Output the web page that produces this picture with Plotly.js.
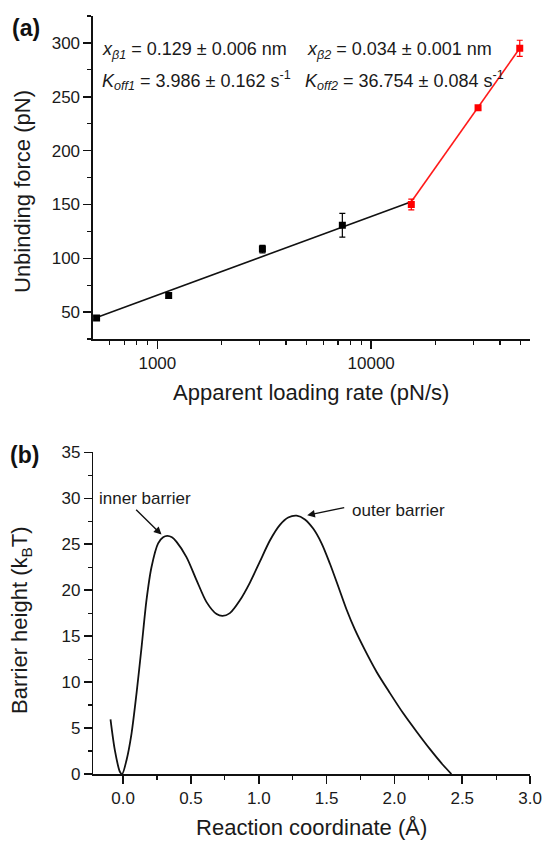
<!DOCTYPE html>
<html>
<head>
<meta charset="utf-8">
<script src="https://cdn.plot.ly/plotly-3.0.1.min.js"></script>
<style>html,body{margin:0;padding:0;background:#fff;}#chart{width:542px;height:841px;}</style>
</head>
<body>
<div id="chart"></div>
<script>
// Panel (a): dynamic force spectroscopy
var rateLow = [520, 1130, 3100, 7330];
var forceLow = [44.5, 65.5, 108.5, 130.7];
var errLow = [1.5, 2.5, 3.5, 11];
var rateHigh = [15400, 31600, 49500];
var forceHigh = [150, 239.8, 295];
var errHigh = [5, 2, 7.5];
var fitLowX = [520, 15400];
var fitLowY = [45, 152.5];
var fitHighX = [15400, 49500];
var fitHighY = [152.5, 295];
var rateTickVals = [1000, 10000];
var rateTickText = ['1000', '10000'];
var rateMinorVals = [600, 700, 800, 900, 2000, 3000, 4000, 5000, 6000, 7000, 8000, 9000, 20000, 30000, 40000, 50000];

// Panel (b): energy landscape
var coordX = [-0.093, -0.061, -0.024, -0.007, 0.025, 0.062, 0.099, 0.136, 0.172, 0.209, 0.258, 0.295, 0.325, 0.36, 0.394, 0.467, 0.541, 0.615, 0.689, 0.733, 0.787, 0.861, 0.934, 1.008, 1.082, 1.156, 1.217, 1.279, 1.340, 1.401, 1.463, 1.524, 1.586, 1.647, 1.709, 1.782, 1.869, 1.967, 2.065, 2.164, 2.262, 2.36, 2.42];
var barrierY = [5.95, 2.6, 0.25, 0, 1.5, 4.4, 8.8, 13.8, 18.9, 22.5, 25.1, 25.75, 25.9, 25.75, 25.25, 23.6, 21.1, 18.7, 17.4, 17.2, 17.5, 18.9, 20.8, 23.1, 25.4, 27.1, 27.9, 28.1, 27.7, 26.7, 25.1, 22.9, 20.4, 17.9, 15.7, 13.5, 11.1, 8.8, 6.6, 4.6, 2.7, 0.95, 0];

var FONT = 'Liberation Sans, Arial, Helvetica, sans-serif';
var TXT = '#1a1a1a';

var traces = [
  {x: fitLowX, y: fitLowY, mode: 'lines', line: {color: '#111', width: 1.6}, xaxis: 'x', yaxis: 'y', hoverinfo: 'skip'},
  {x: fitHighX, y: fitHighY, mode: 'lines', line: {color: '#ff1a1a', width: 1.6}, xaxis: 'x', yaxis: 'y', hoverinfo: 'skip'},
  {x: rateLow, y: forceLow, mode: 'markers', marker: {symbol: 'square', size: 7, color: '#000'},
   error_y: {type: 'data', array: errLow, visible: true, color: '#000', thickness: 1.2, width: 3}, xaxis: 'x', yaxis: 'y'},
  {x: rateHigh, y: forceHigh, mode: 'markers', marker: {symbol: 'square', size: 7, color: '#ff0000'},
   error_y: {type: 'data', array: errHigh, visible: true, color: '#ff0000', thickness: 1.2, width: 3}, xaxis: 'x', yaxis: 'y'},
  {x: coordX, y: barrierY, mode: 'lines', line: {color: '#111', width: 1.8, shape: 'spline', smoothing: 0.8}, xaxis: 'x2', yaxis: 'y2'}
];

var axisBase = {
  showgrid: false, zeroline: false, showline: true, linecolor: '#111', linewidth: 1.5,
  ticks: 'outside', ticklen: 8, tickwidth: 1.5, tickcolor: '#111',
  tickfont: {family: FONT, size: 17, color: TXT}, mirror: false
};
function ax(extra) { return Object.assign({}, axisBase, extra); }

var layout = {
  width: 542, height: 841,
  margin: {l: 0, r: 0, t: 0, b: 0},
  paper_bgcolor: '#fff', plot_bgcolor: '#fff',
  showlegend: false,
  font: {family: FONT, color: TXT},
  xaxis: ax({
    type: 'log', domain: [0.1715, 0.977], range: [Math.log10(500), Math.log10(55000)],
    anchor: 'y', tickmode: 'array', tickvals: rateTickVals, ticktext: rateTickText,
    minor: {tickmode: 'array', tickvals: rateMinorVals, ticklen: 4, tickwidth: 1.2, tickcolor: '#111', ticks: 'outside'},
    title: {text: 'Apparent loading rate (pN/s)', font: {family: FONT, size: 22, color: TXT}, standoff: 12}
  }),
  yaxis: ax({
    domain: [1 - 339 / 841, 1 - 16 / 841], range: [25, 325], anchor: 'x',
    tickmode: 'linear', tick0: 50, dtick: 50,
    minor: {dtick: 25, ticklen: 4, tickwidth: 1.2, tickcolor: '#111', ticks: 'outside'}
  }),
  xaxis2: ax({
    domain: [0.1721, 0.978], range: [-0.22, 3.0], anchor: 'y2',
    tickmode: 'linear', tick0: 0, dtick: 0.5, tickformat: '.1f',
    minor: {dtick: 0.25, ticklen: 4, tickwidth: 1.2, tickcolor: '#111', ticks: 'outside'},
    title: {text: 'Reaction coordinate (Å)', font: {family: FONT, size: 22, color: TXT}, standoff: 12}
  }),
  yaxis2: ax({
    domain: [1 - 774 / 841, 1 - 452.3 / 841], range: [0, 35], anchor: 'x2',
    tickmode: 'linear', tick0: 0, dtick: 5,
    minor: {dtick: 2.5, ticklen: 4, tickwidth: 1.2, tickcolor: '#111', ticks: 'outside'}
  }),
  annotations: [
    {xref: 'paper', yref: 'paper', x: 22 / 542, y: 1 - 192 / 841, xanchor: 'center', yanchor: 'middle', showarrow: false,
     textangle: -90, text: 'Unbinding force (pN)', font: {family: FONT, size: 22, color: TXT}},
    {xref: 'paper', yref: 'paper', x: 21 / 542, y: 1 - 620 / 841, xanchor: 'center', yanchor: 'middle', showarrow: false,
     textangle: -90, text: 'Barrier height (k<sub>B</sub>T)', font: {family: FONT, size: 22, color: TXT}},
    {xref: 'paper', yref: 'paper', x: 10 / 542, y: 1 - 28 / 841, xanchor: 'left', yanchor: 'middle', showarrow: false,
     text: '<b>(a)</b>', font: {family: FONT, size: 23, color: '#111'}},
    {xref: 'paper', yref: 'paper', x: 8 / 542, y: 1 - 455 / 841, xanchor: 'left', yanchor: 'middle', showarrow: false,
     text: '<b>(b)</b>', font: {family: FONT, size: 23, color: '#111'}},
    {xref: 'paper', yref: 'paper', x: 100 / 542, y: 1 - 50 / 841, xanchor: 'left', yanchor: 'middle', showarrow: false,
     text: '<i>x<sub>β1</sub></i> = 0.129 ± 0.006 nm', font: {family: FONT, size: 18, color: TXT}},
    {xref: 'paper', yref: 'paper', x: 100 / 542, y: 1 - 80 / 841, xanchor: 'left', yanchor: 'middle', showarrow: false,
     text: '<i>K<sub>off1</sub></i> = 3.986 ± 0.162 s<sup>-1</sup>', font: {family: FONT, size: 18, color: TXT}},
    {xref: 'paper', yref: 'paper', x: 305 / 542, y: 1 - 50 / 841, xanchor: 'left', yanchor: 'middle', showarrow: false,
     text: '<i>x<sub>β2</sub></i> = 0.034 ± 0.001 nm', font: {family: FONT, size: 18, color: TXT}},
    {xref: 'paper', yref: 'paper', x: 303 / 542, y: 1 - 80 / 841, xanchor: 'left', yanchor: 'middle', showarrow: false,
     text: '<i>K<sub>off2</sub></i> = 36.754 ± 0.084 s<sup>-1</sup>', font: {family: FONT, size: 18, color: TXT}},
    {xref: 'x2', yref: 'y2', x: 0.161, y: 30.0, showarrow: false, text: 'inner barrier',
     font: {family: FONT, size: 17, color: TXT}},
    {xref: 'x2', yref: 'y2', x: 2.028, y: 28.7, showarrow: false, text: 'outer barrier',
     font: {family: FONT, size: 17, color: TXT}},
    {xref: 'x2', yref: 'y2', x: 0.283, y: 26.05, axref: 'x2', ayref: 'y2', ax: 0.074, ay: 29.06,
     text: ' ', showarrow: true, arrowhead: 2, arrowsize: 1.1, arrowwidth: 1.4, arrowcolor: '#111', standoff: 0},
    {xref: 'x2', yref: 'y2', x: 1.357, y: 28.15, axref: 'x2', ayref: 'y2', ax: 1.652, ay: 29.05,
     text: ' ', showarrow: true, arrowhead: 2, arrowsize: 1.1, arrowwidth: 1.4, arrowcolor: '#111', standoff: 0}
  ]
};

Plotly.newPlot('chart', traces, layout, {staticPlot: true, displayModeBar: false});
</script>
</body>
</html>
